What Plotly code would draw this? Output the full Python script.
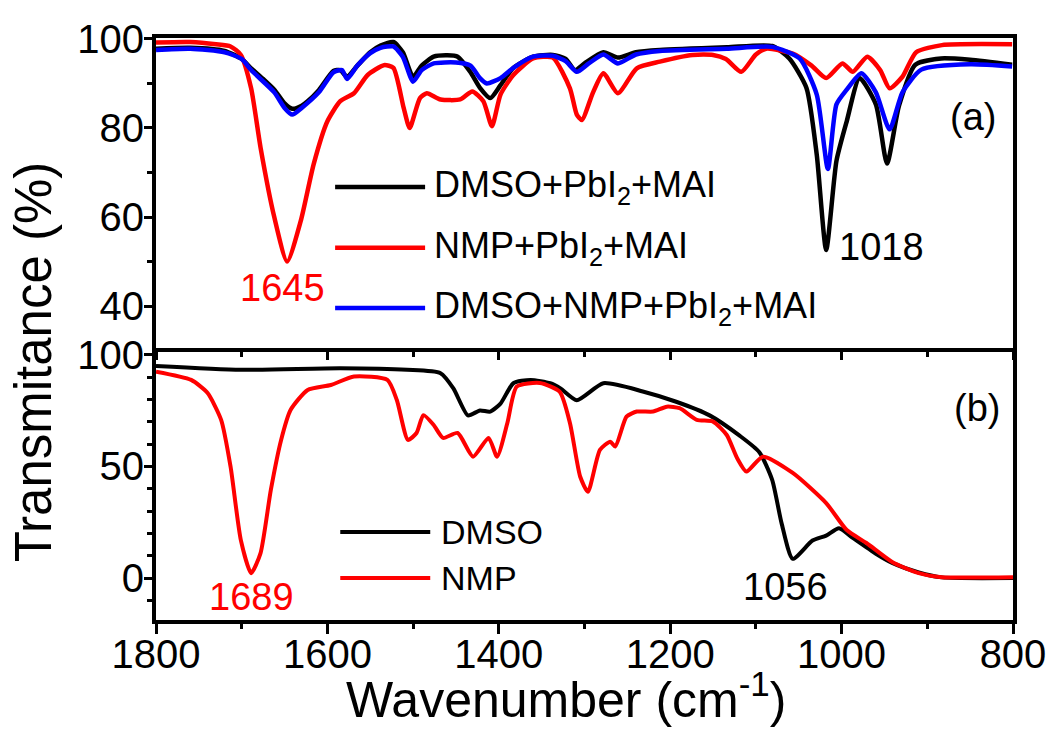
import plotly.graph_objects as go

FONT = "Liberation Sans, Arial, sans-serif"

# ---- panel (a): precursor solutions ----
wn_a_dmso = [1800, 1760, 1720, 1700, 1689, 1675, 1662, 1650, 1641, 1630, 1623, 1610, 1593, 1585,
             1577, 1565, 1550, 1538, 1523, 1512, 1500, 1490, 1476, 1460, 1448, 1433, 1422, 1410,
             1398, 1383, 1360, 1337, 1322, 1311, 1300, 1278, 1261, 1240, 1212, 1134, 1081, 1061,
             1041, 1029, 1018, 1006, 994, 979, 960, 947, 933, 914, 884, 850, 801]
t_a_dmso = [97.8, 98.0, 97.3, 95.5, 93.4, 91.0, 88.6, 85.5, 84.3, 85.0, 86.0, 88.5, 92.8, 93.0,
            91.5, 94.0, 97.0, 98.5, 99.3, 97.0, 91.5, 94.0, 96.0, 96.3, 96.0, 92.5, 89.0, 86.7,
            89.6, 93.5, 96.0, 96.4, 95.5, 93.0, 94.5, 97.0, 95.8, 97.0, 97.5, 98.1, 98.4, 95.6,
            89.0, 74.0, 52.6, 72.6, 81.5, 91.2, 85.3, 72.0, 85.0, 94.2, 95.6, 95.3, 94.2]

wn_a_nmp = [1800, 1760, 1730, 1713, 1701, 1689, 1678, 1662, 1647, 1631, 1616, 1600, 1585, 1569,
            1553, 1534, 1523, 1511, 1504, 1492, 1484, 1468, 1445, 1431, 1418, 1408, 1398, 1383,
            1360, 1337, 1317, 1309, 1303, 1290, 1278, 1261, 1239, 1212, 1174, 1150, 1135, 1117,
            1100, 1088, 1057, 1035, 1018, 999, 987, 970, 955, 944, 929, 913, 883, 801]
t_a_nmp = [99.2, 99.3, 98.8, 98.3, 96.4, 88.9, 75.6, 60.0, 50.0, 59.2, 71.9, 81.5, 86.0, 87.8,
           91.9, 94.1, 93.5, 84.5, 80.0, 86.7, 87.8, 86.4, 86.4, 88.2, 86.0, 80.4, 87.5, 91.9,
           95.6, 95.8, 88.9, 83.0, 81.8, 88.0, 92.3, 87.8, 93.4, 94.9, 96.4, 96.4, 95.5, 92.6,
           96.5, 97.8, 96.7, 94.0, 91.2, 94.5, 92.6, 96.0, 93.0, 88.9, 91.5, 97.0, 98.6, 98.8]

wn_a_mix = [1800, 1760, 1720, 1700, 1689, 1662, 1650, 1641, 1630, 1610, 1593, 1583, 1577, 1565,
            1550, 1538, 1523, 1512, 1500, 1490, 1476, 1450, 1433, 1422, 1414, 1398, 1383, 1360,
            1337, 1322, 1309, 1295, 1278, 1261, 1240, 1212, 1134, 1081, 1049, 1029, 1016, 1006,
            994, 977, 960, 944, 929, 907, 850, 801]
t_a_mix = [97.5, 97.8, 97.0, 95.5, 93.0, 88.0, 84.5, 83.0, 84.5, 88.0, 92.5, 93.0, 91.0, 94.0,
           96.8, 98.0, 98.3, 96.0, 90.4, 93.0, 94.5, 94.7, 94.0, 91.2, 90.0, 91.2, 93.5, 96.0,
           96.2, 95.0, 92.6, 94.5, 96.5, 94.5, 96.5, 97.3, 97.8, 98.2, 95.6, 87.5, 70.8, 85.3,
           88.6, 92.3, 88.0, 79.7, 88.0, 93.1, 94.3, 93.8]

# ---- panel (b): pure solvents ----
wn_b_dmso = [1800, 1701, 1585, 1507, 1468, 1453, 1436, 1422, 1410, 1398, 1383, 1363, 1340, 1328,
             1309, 1278, 1232, 1193, 1154, 1119, 1096, 1081, 1070, 1057, 1034, 1018, 1003, 987,
             960, 941, 910, 883, 800]
t_b_dmso = [95.0, 93.3, 94.0, 93.3, 91.8, 85.0, 72.9, 75.1, 74.6, 78.2, 87.3, 88.8, 87.3, 85.0,
            79.7, 87.3, 83.6, 79.0, 72.9, 63.8, 56.4, 44.0, 24.5, 8.6, 16.8, 19.0, 22.3, 18.0,
            10.9, 6.8, 2.5, 0.3, 0.0]

wn_b_nmp = [1800, 1759, 1740, 1724, 1713, 1701, 1689, 1678, 1666, 1654, 1643, 1623, 1596, 1569,
            1530, 1519, 1506, 1496, 1488, 1476, 1465, 1448, 1430, 1412, 1402, 1390, 1379, 1352,
            1329, 1317, 1305, 1296, 1282, 1270, 1264, 1251, 1239, 1220, 1204, 1189, 1169, 1150,
            1134, 1122, 1111, 1092, 1057, 1018, 994, 971, 941, 910, 883, 800]
t_b_nmp = [92.5, 88.8, 83.0, 70.9, 49.9, 17.0, 2.2, 11.2, 39.5, 61.9, 75.3, 84.3, 86.5, 90.3,
           88.8, 79.8, 61.9, 65.0, 73.0, 68.6, 62.8, 65.0, 54.4, 62.8, 54.4, 69.5, 85.8, 87.4,
           83.5, 69.5, 45.4, 38.7, 57.4, 61.1, 58.9, 72.3, 74.6, 74.6, 76.8, 76.1, 70.9, 70.1,
           64.1, 53.8, 47.7, 54.4, 47.1, 33.6, 21.5, 15.7, 7.2, 2.2, 0.4, 0.4]

legend_a = ["DMSO+PbI<sub>2</sub>+MAI", "NMP+PbI<sub>2</sub>+MAI", "DMSO+NMP+PbI<sub>2</sub>+MAI"]
legend_b = ["DMSO", "NMP"]
colors_a = ["#000000", "#ff0000", "#0000ff"]
colors_b = ["#000000", "#ff0000"]

fig = go.Figure()

series_a = [(wn_a_dmso, t_a_dmso), (wn_a_nmp, t_a_nmp), (wn_a_mix, t_a_mix)]
for (x, y), c in zip(series_a, colors_a):
    fig.add_trace(go.Scatter(x=x, y=y, mode="lines", xaxis="x", yaxis="y",
                             line=dict(color=c, width=4.5, shape="spline", smoothing=0.6),
                             showlegend=False))

series_b = [(wn_b_dmso, t_b_dmso), (wn_b_nmp, t_b_nmp)]
for (x, y), c in zip(series_b, colors_b):
    fig.add_trace(go.Scatter(x=x, y=y, mode="lines", xaxis="x2", yaxis="y2",
                             line=dict(color=c, width=4, shape="spline", smoothing=0.6),
                             showlegend=False))

axis_common = dict(showline=True, linewidth=4, linecolor="black", mirror=True,
                   showgrid=False, zeroline=False, ticks="outside", tickwidth=3,
                   automargin=False, tickcolor="black",
                   tickfont=dict(family=FONT, size=40, color="black"))

fig.update_layout(
    template="none",
    width=1054, height=734,
    margin=dict(l=156, r=41, t=38, b=114),
    paper_bgcolor="white", plot_bgcolor="white",
    font=dict(family=FONT, color="black"),
    xaxis=dict(axis_common, domain=[0, 1], anchor="y", range=[1800, 800],
               dtick=200, ticklen=8, showticklabels=False,
               minor=dict(dtick=100, ticks="outside", ticklen=5, tickwidth=3, tickcolor="black")),
    yaxis=dict(axis_common, domain=[0.4674, 1], anchor="x", range=[30.6, 100.2],
               tickvals=[40, 60, 80, 100], ticklen=8, ticklabelstandoff=-8,
               minor=dict(dtick=10, ticks="outside", ticklen=5, tickwidth=3, tickcolor="black")),
    xaxis2=dict(axis_common, domain=[0, 1], anchor="y2", range=[1800, 800], matches="x",
                dtick=200, ticklen=10, ticklabelstandoff=-14,
                minor=dict(dtick=100, ticks="outside", ticklen=5, tickwidth=3, tickcolor="black")),
    yaxis2=dict(axis_common, domain=[0, 0.4605], anchor="x2", range=[-18.8, 101.3],
                tickvals=[0, 50, 100], ticklen=8, ticklabelstandoff=-8,
                minor=dict(dtick=10, ticks="outside", ticklen=5, tickwidth=3, tickcolor="black")),
)

# legend samples drawn Origin-style (long line + label)
legend_y_a = [0.519, 0.323, 0.129]
for name, c, yy in zip(legend_a, colors_a, legend_y_a):
    fig.add_shape(type="line", xref="x domain", yref="y domain", x0=0.209, x1=0.314,
                  y0=yy, y1=yy, line=dict(color=c, width=4.5))
    fig.add_annotation(xref="x domain", yref="y domain", x=0.322, y=yy, text=name,
                       showarrow=False, xanchor="left", yanchor="middle",
                       font=dict(family=FONT, size=36, color="black"))

legend_y_b = [0.328, 0.157]
for name, c, yy in zip(legend_b, colors_b, legend_y_b):
    fig.add_shape(type="line", xref="x2 domain", yref="y2 domain", x0=0.215, x1=0.320,
                  y0=yy, y1=yy, line=dict(color=c, width=4))
    fig.add_annotation(xref="x2 domain", yref="y2 domain", x=0.330, y=yy, text=name,
                       showarrow=False, xanchor="left", yanchor="middle",
                       font=dict(family=FONT, size=34, color="black"))

# peak labels and panel tags
labels = [
    ("x", "y", 1652, 44.0, "1645", "#ff0000"),
    ("x", "y", 953, 53.3, "1018", "#000000"),
    ("x", "y", 847, 82.5, "(a)", "#000000"),
    ("x2", "y2", 1688, -8.5, "1689", "#ff0000"),
    ("x2", "y2", 1066, -4.0, "1056", "#000000"),
    ("x2", "y2", 842, 76.2, "(b)", "#000000"),
]
for xr, yr, xv, yv, txt, c in labels:
    fig.add_annotation(xref=xr, yref=yr, x=xv, y=yv, text=txt, showarrow=False,
                       font=dict(family=FONT, size=38, color=c))

# shared axis titles
fig.add_annotation(xref="paper", yref="paper", x=-0.1435, y=0.443, text="Transmitance (%)",
                   textangle=-90, showarrow=False, xanchor="center", yanchor="middle",
                   font=dict(family=FONT, size=51, color="black"))
fig.add_annotation(xref="paper", yref="paper", x=0.478, y=-0.131, text="Wavenumber (cm<sup>-1</sup>)",
                   showarrow=False, xanchor="center", yanchor="middle",
                   font=dict(family=FONT, size=50, color="black"))

# drop the default page margin so the figure sits at the window origin
fig.write_html("out.html", config={"displayModeBar": False},
               post_script="document.body.style.margin='0';document.body.style.overflow='hidden';")
